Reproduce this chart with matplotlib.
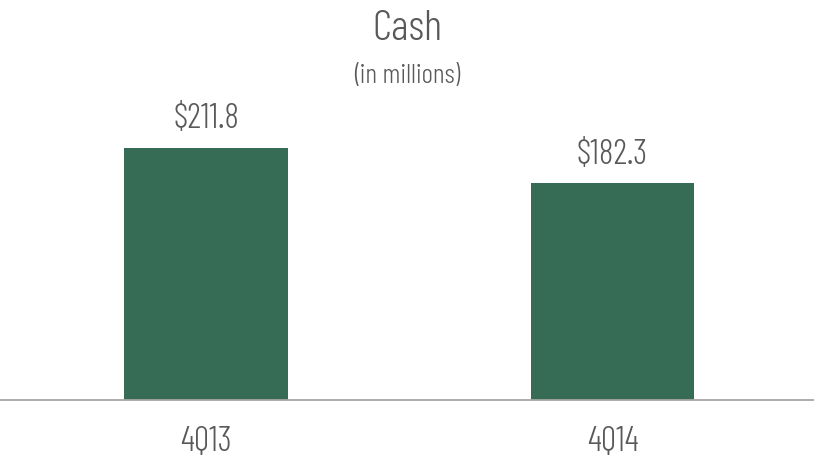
import matplotlib.pyplot as plt
from matplotlib import font_manager

# Data
quarters = ['4Q13', '4Q14']
cash = [211.8, 182.3]
value_labels = ['$211.8', '$182.3']

names = {f.name for f in font_manager.fontManager.ttflist}
font = 'Barlow Condensed' if 'Barlow Condensed' in names else 'DejaVu Sans'
plt.rcParams['font.family'] = [font, 'DejaVu Sans']
plt.rcParams['font.weight'] = 300

text_color = '#595959'
bar_color = '#366b55'

fig = plt.figure(figsize=(8.14, 4.58), dpi=100)
ax = fig.add_axes([0, 58 / 458, 1, 357 / 458])

x = range(len(quarters))
bars = ax.bar(x, cash, width=0.403, color=bar_color)

for b, lab in zip(bars, value_labels):
    ax.annotate(lab, (b.get_x() + b.get_width() / 2, b.get_height()),
                xytext=(0, 9), textcoords='offset points',
                ha='center', va='bottom', fontsize=25, color=text_color)

ax.set_xlim(-0.5068, 1.4957)
ax.set_ylim(0, 300)
ax.set_xticks(list(x))
ax.set_xticklabels(quarters, fontsize=25, color=text_color)
ax.tick_params(axis='x', length=0, pad=19)
ax.set_yticks([])
for s in ['top', 'left', 'right']:
    ax.spines[s].set_visible(False)
ax.spines['bottom'].set_color('#a6a6a6')
ax.spines['bottom'].set_linewidth(1.3)
ax.patch.set_alpha(0)

fig.text(0.5, 1 - 30 / 458, 'Cash', ha='center', va='center',
         fontsize=31, color=text_color)
fig.text(0.5, 1 - 76 / 458, '(in millions)', ha='center', va='center',
         fontsize=20, color=text_color)

fig.savefig('out.png', dpi=100)
